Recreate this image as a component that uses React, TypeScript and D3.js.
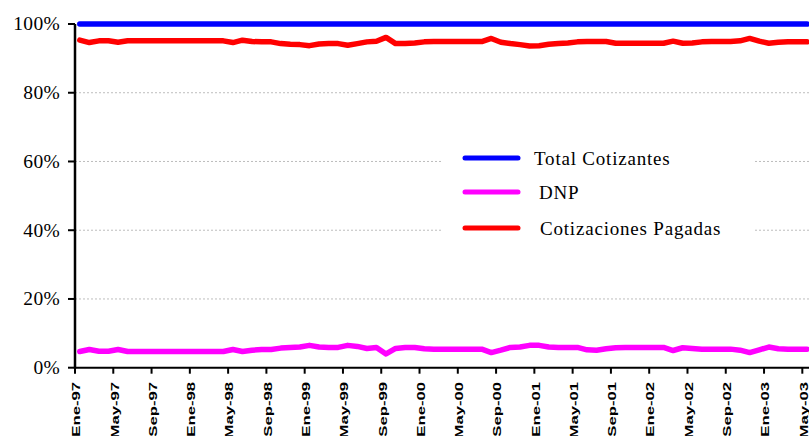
import React from "react";
import * as d3 from "d3";

const MONTHS_ES = ["Ene", "Feb", "Mar", "Abr", "May", "Jun", "Jul", "Ago", "Sep", "Oct", "Nov", "Dic"];
const START_YEAR = 1997;
const N_MONTHS = 77; // Ene-97 .. May-03

const categories: string[] = Array.from({ length: N_MONTHS }, (_, i) => {
  const m = i % 12;
  const y = START_YEAR + Math.floor(i / 12);
  return `${MONTHS_ES[m]}-${String(y % 100).padStart(2, "0")}`;
});

const totalCotizantes: number[] = Array.from({ length: N_MONTHS }, () => 100);

const cotizacionesPagadas: number[] = [
  95.3, 94.6, 95.1, 95.1, 94.7, 95.1, 95.1, 95.1, 95.1, 95.1,
  95.1, 95.1, 95.1, 95.1, 95.1, 95.1, 94.6, 95.3, 94.9, 94.8,
  94.8, 94.3, 94.1, 94.0, 93.7, 94.2, 94.3, 94.3, 93.8, 94.3,
  94.8, 95.0, 96.1, 94.3, 94.3, 94.5, 94.8, 94.9, 94.9, 94.9,
  94.9, 94.9, 94.9, 95.8, 94.7, 94.3, 94.0, 93.6, 93.7, 94.1,
  94.3, 94.5, 94.8, 94.9, 94.9, 94.9, 94.4, 94.4, 94.4, 94.4,
  94.4, 94.4, 95.0, 94.4, 94.5, 94.8, 94.9, 94.9, 94.9, 95.1,
  95.8, 95.0, 94.4, 94.7, 94.8, 94.8, 94.8,
];

const dnp: number[] = [
  4.7, 5.3, 4.8, 4.8, 5.3, 4.7, 4.7, 4.7, 4.7, 4.7,
  4.7, 4.7, 4.7, 4.7, 4.7, 4.7, 5.3, 4.7, 5.1, 5.3,
  5.3, 5.7, 5.9, 6.0, 6.5, 6.0, 5.9, 5.9, 6.5, 6.2,
  5.6, 5.9, 4.0, 5.6, 5.9, 5.9, 5.5, 5.4, 5.4, 5.4,
  5.4, 5.4, 5.4, 4.4, 5.1, 5.9, 6.0, 6.5, 6.5, 6.0,
  5.9, 5.9, 5.9, 5.2, 5.1, 5.5, 5.8, 5.9, 5.9, 5.9,
  5.9, 5.9, 5.0, 5.8, 5.6, 5.4, 5.4, 5.4, 5.4, 5.1,
  4.4, 5.2, 6.0, 5.5, 5.4, 5.4, 5.4,
];

const yTicks: number[] = [0, 20, 40, 60, 80, 100];
const yTickLabels: string[] = ["0%", "20%", "40%", "60%", "80%", "100%"];

const seriesNames: string[] = ["Total Cotizantes", "DNP", "Cotizaciones Pagadas"];
const seriesColors: string[] = ["#0000FF", "#FF00FF", "#FF0000"];
const seriesData: number[][] = [totalCotizantes, dnp, cotizacionesPagadas];

const W = 809;
const H = 436;
const left = 75;
const monthW = 9.57;
const top = 24;
const bottom = 367.7;

export default function App() {
  const x = d3
    .scaleBand<number>()
    .domain(d3.range(N_MONTHS))
    .range([left, left + N_MONTHS * monthW])
    .paddingInner(0)
    .paddingOuter(0);
  const y = d3.scaleLinear().domain([0, 100]).range([bottom, top]);
  const cx = (i: number) => (x(i) as number) + x.bandwidth() / 2;

  const line = (vals: number[]) =>
    d3
      .line<number>()
      .x((_, i) => cx(i))
      .y((v) => y(v))(vals) as string;

  const labelIdx = d3.range(0, N_MONTHS, 4);

  const legendLineX0 = 465;
  const legendLineX1 = 518;
  const legendYs = [158, 192, 228];
  const legendTextX = [534, 539, 540];

  return (
    <svg
      width={W}
      height={H}
      style={{ position: "absolute", left: 0, top: 0, background: "#fff" }}
    >
      <rect x={0} y={0} width={W} height={H} fill="#fff" />
      {/* gridlines */}
      {yTicks
        .filter((t) => t !== 0 && t !== 100)
        .map((t) => (
          <line
            key={"g" + t}
            x1={left}
            x2={W}
            y1={y(t)}
            y2={y(t)}
            stroke="#bdbdbd"
            strokeWidth={1}
            strokeDasharray="2,2"
          />
        ))}
      {/* legend background */}
      <rect x={442} y={138} width={312} height={110} fill="#fff" />
      {/* series lines */}
      {seriesData.map((vals, k) => (
        <path
          key={"s" + k}
          d={line(vals)}
          fill="none"
          stroke={seriesColors[k]}
          strokeWidth={5.5}
          strokeLinejoin="round"
          strokeLinecap="round"
        />
      ))}
      {/* y axis */}
      <line x1={left} x2={left} y1={y(100)} y2={bottom + 1} stroke="#000" strokeWidth={2.5} />
      {yTicks.map((t, k) => (
        <g key={"yt" + t}>
          <line x1={left - 7} x2={left} y1={y(t)} y2={y(t)} stroke="#000" strokeWidth={2} />
          <text
            x={60}
            y={y(t)}
            dy="0.33em"
            textAnchor="end"
            fontFamily="'Liberation Serif', 'Times New Roman', serif"
            fontSize={19.5}
            letterSpacing={0.3}
            fill="#000"
          >
            {yTickLabels[k]}
          </text>
        </g>
      ))}
      {/* x axis */}
      <line x1={left} x2={W} y1={bottom} y2={bottom} stroke="#000" strokeWidth={2} />
      {labelIdx.map((i) => {
        const tx = x(i) as number;
        return (
          <g key={"xt" + i}>
            <line x1={tx} x2={tx} y1={bottom} y2={bottom + 6} stroke="#000" strokeWidth={2} />
            <text
              transform={`translate(${tx + 1},${382}) rotate(-90) scale(1.45,1)`}
              dy="0.37em"
              textAnchor="end"
              fontFamily="'Liberation Sans', Arial, sans-serif"
              fontWeight="bold"
              fontSize={11.5}
              fill="#000"
            >
              {categories[i]}
            </text>
          </g>
        );
      })}
      {/* legend */}
      {seriesNames.map((name, k) => (
        <g key={"lg" + k}>
          <line
            x1={legendLineX0}
            x2={legendLineX1}
            y1={legendYs[k]}
            y2={legendYs[k]}
            stroke={seriesColors[k]}
            strokeWidth={5}
            strokeLinecap="round"
          />
          <text
            x={legendTextX[k]}
            y={legendYs[k]}
            dy="0.35em"
            fontFamily="'Liberation Serif', 'Times New Roman', serif"
            fontSize={19}
            letterSpacing={0.8}
            fill="#000"
          >
            {name}
          </text>
        </g>
      ))}
    </svg>
  );
}
